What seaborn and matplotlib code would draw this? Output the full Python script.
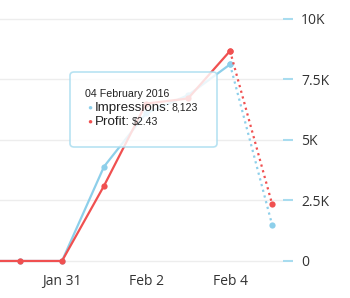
import matplotlib
matplotlib.use("Agg")
import matplotlib.pyplot as plt
import seaborn as sns
import pandas as pd
from matplotlib.patches import FancyBboxPatch

# ---- data ----
dates = ["2016-01-29", "2016-01-30", "2016-01-31", "2016-02-01",
         "2016-02-02", "2016-02-03", "2016-02-04", "2016-02-05"]
impressions = [0, 0, 0, 3900, 6100, 6850, 8123, 1500]
profit = [0, 0, 0, 0.87, 1.82, 1.88, 2.43, 0.66]

y_ticks = [0, 2500, 5000, 7500, 10000]
y_tick_labels = ["0", "2.5K", "5K", "7.5K", "10K"]
x_tick_dates = ["2016-01-29", "2016-01-31", "2016-02-02", "2016-02-04"]
x_tick_labels = ["Jan 29", "Jan 31", "Feb 2", "Feb 4"]

tooltip_date = "04 February 2016"
tooltip_impr = "8,123"
tooltip_profit = "$2.43"

df = pd.DataFrame({"date": pd.to_datetime(dates),
                   "impressions": impressions,
                   "profit": profit})
solid = df.iloc[:-1]
dotted = df.iloc[-2:]

sns.set_theme(style="white")
plt.rcParams["font.family"] = ["Open Sans", "DejaVu Sans"]

BLUE = "#8dcfea"
RED = "#f05050"

fig = plt.figure(figsize=(3.5, 2.98), dpi=100)
ax = fig.add_axes([-0.0869, 0.108, 0.8954, 0.869])
ax2 = ax.twinx()

lw = 1.6
ms = 4.5
sns.lineplot(data=solid, x="date", y="impressions", ax=ax, color=BLUE,
             linewidth=lw, marker="o", markersize=ms, markeredgewidth=0)
sns.lineplot(data=dotted, x="date", y="impressions", ax=ax, color=BLUE,
             linewidth=lw, linestyle=":", marker="o", markersize=ms,
             markeredgewidth=0)
sns.lineplot(data=solid, x="date", y="profit", ax=ax2, color=RED,
             linewidth=lw, marker="o", markersize=ms, markeredgewidth=0)
sns.lineplot(data=dotted, x="date", y="profit", ax=ax2, color=RED,
             linewidth=lw, linestyle=":", marker="o", markersize=ms,
             markeredgewidth=0)

for a in (ax, ax2):
    for l in a.lines:
        l.set_clip_on(False)

x0 = pd.Timestamp("2016-01-28 19:12")
x1 = pd.Timestamp("2016-02-05 06:14")
ax.set_xlim(x0, x1)
ax.set_ylim(-200, 10500)
ax2.set_ylim(-0.056, 2.94)

ax.set_xticks(pd.to_datetime(x_tick_dates))
ax.set_xticklabels(x_tick_labels)
ax.set_yticks(y_ticks)
ax.set_yticklabels(y_tick_labels)
ax.yaxis.tick_right()
ax.tick_params(axis="y", length=7, width=1.5, color="#a8dcef", pad=6,
               labelsize=10, labelcolor="#333333", right=True, left=False)
ax.tick_params(axis="x", length=0, pad=6, labelsize=10,
               labelcolor="#333333")
ax.set_xlabel("")
ax.set_ylabel("")
ax.grid(axis="y", color="#ededed", linewidth=1)
ax.grid(axis="x", visible=False)
for s in ax.spines.values():
    s.set_visible(False)
ax2.set_axis_off()

# ---- tooltip ----
W, H = 350.0, 298.0
box = FancyBboxPatch((70 / W, (H - 147) / H), 147 / W, 75 / H,
                     boxstyle="round,pad=0,rounding_size=0.012",
                     transform=fig.transFigure, facecolor="white",
                     edgecolor="#a8dcef", linewidth=1.2, alpha=0.82,
                     zorder=10)
fig.patches.append(box)
tf = ["Liberation Sans", "DejaVu Sans"]
fig.text(85 / W, (H - 94) / H, tooltip_date, fontsize=7.7, color="#222222",
         va="center", ha="left", family=tf, zorder=11)
fig.text(90 / W, (H - 108) / H, "\u25cf", fontsize=6, color=BLUE,
         va="center", ha="center", family=tf, zorder=11)
fig.text(95 / W, (H - 108) / H, "Impressions:", fontsize=9.6,
         color="#222222", va="center", ha="left", family=tf, zorder=11)
fig.text(172 / W, (H - 108) / H, tooltip_impr, fontsize=7.6,
         color="#222222", va="center", ha="left", family=tf, zorder=11)
fig.text(90 / W, (H - 122) / H, "\u25cf", fontsize=6, color=RED,
         va="center", ha="center", family=tf, zorder=11)
fig.text(95 / W, (H - 122) / H, "Profit:", fontsize=9.6,
         color="#222222", va="center", ha="left", family=tf, zorder=11)
fig.text(132 / W, (H - 122) / H, tooltip_profit, fontsize=7.6,
         color="#222222", va="center", ha="left", family=tf, zorder=11)

fig.savefig("out.png", dpi=100)
